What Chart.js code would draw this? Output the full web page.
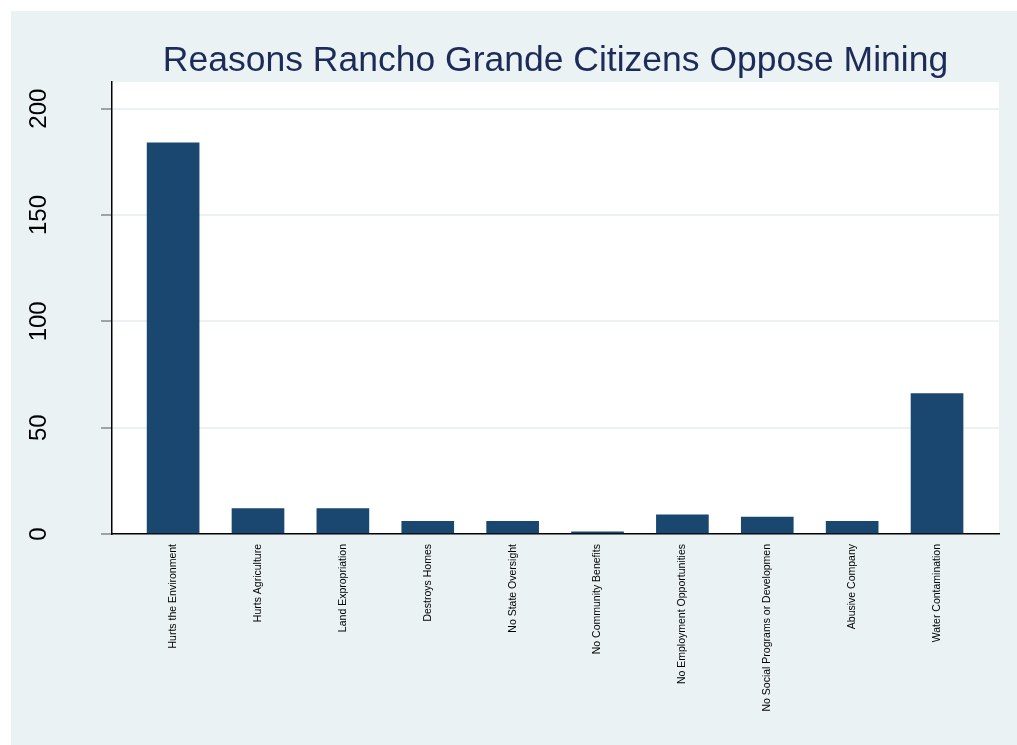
<!DOCTYPE html>
<html>
<head>
<meta charset="utf-8">
<script src="https://cdn.jsdelivr.net/npm/chart.js@4/dist/chart.umd.min.js"></script>
<style>
  html, body { margin: 0; padding: 0; background: #ffffff; }
  #wrap { position: absolute; left: 11px; top: 11px; width: 1006px; height: 734px; background: #EAF2F3; }
</style>
</head>
<body>
<div id="wrap"><canvas id="c"></canvas></div>
<script>
const chartTitle = "Reasons Rancho Grande Citizens Oppose Mining";
const categories = [
  "Hurts the Environment",
  "Hurts Agriculture",
  "Land Expropriation",
  "Destroys Homes",
  "No State Oversight",
  "No Community Benefits",
  "No Employment Opportunities",
  "No Social Programs or Developmen",
  "Abusive Company",
  "Water Contamination"
];
const counts = [184, 12, 12, 6, 6, 1, 9, 8, 6, 66];
const yTicks = [0, 50, 100, 150, 200];

const plotBg = {
  id: 'plotBg',
  beforeDraw(chart) {
    const {ctx, chartArea: a} = chart;
    ctx.save();
    ctx.fillStyle = '#ffffff';
    ctx.fillRect(a.left, a.top, a.right - a.left, a.bottom - a.top);
    ctx.restore();
  }
};

new Chart(document.getElementById('c'), {
  type: 'bar',
  data: {
    datasets: [{
      data: counts.map((v, i) => ({x: i, y: v})),
      backgroundColor: '#1A476F',
      borderWidth: 0,
      barThickness: 52
    }]
  },
  options: {
    responsive: true,
    maintainAspectRatio: false,
    animation: false,
    layout: { padding: { left: 0, right: 18, top: 0, bottom: 0 } },
    plugins: {
      legend: { display: false },
      tooltip: { enabled: false },
      title: {
        display: true,
        text: chartTitle,
        fullSize: false,
        color: '#1C2B57',
        font: { family: 'Liberation Sans, Arial, sans-serif', size: 35.5, weight: 'normal' },
        padding: { top: 28.5, bottom: 0 }
      }
    },
    scales: {
      x: {
        type: 'linear',
        min: -0.72,
        max: 9.73,
        offset: false,
        grid: { display: false, drawTicks: false, tickLength: 0 },
        border: { display: true, color: '#000000', width: 1.5 },
        afterBuildTicks(scale) {
          scale.ticks = categories.map((c, i) => ({value: i}));
        },
        afterFit(scale) { scale.height = 211; },
        ticks: {
          autoSkip: false,
          includeBounds: false,
          stepSize: 1,
          minRotation: 90,
          maxRotation: 90,
          padding: 10,
          color: '#000000',
          font: { family: 'Liberation Sans, Arial, sans-serif', size: 10.5 },
          callback: (v) => categories[v] ?? ''
        }
      },
      y: {
        min: 0,
        max: 212.5,
        grid: { color: '#EAF2F3', lineWidth: 2, tickColor: '#555555', tickLength: 11, tickWidth: 1, drawTicks: true },
        border: { display: true, color: '#000000', width: 1.5 },
        afterBuildTicks(scale) {
          scale.ticks = yTicks.map(v => ({value: v}));
        },
        afterFit(scale) { scale.width = 101; },
        ticks: {
          includeBounds: false,
          stepSize: 50,
          minRotation: 90,
          maxRotation: 90,
          crossAlign: 'center',
          padding: 42,
          color: '#000000',
          font: { family: 'Liberation Sans, Arial, sans-serif', size: 24 }
        }
      }
    }
  },
  plugins: [plotBg]
});
</script>
</body>
</html>
